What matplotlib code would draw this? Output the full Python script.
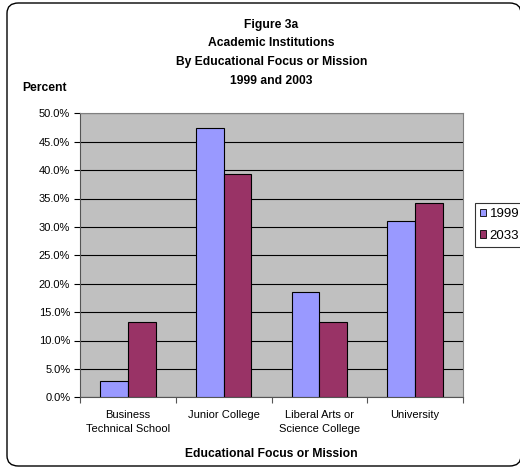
import matplotlib
matplotlib.use("Agg")
import matplotlib.pyplot as plt
import numpy as np
from matplotlib.patches import FancyBboxPatch, Patch
from matplotlib.ticker import FuncFormatter, MultipleLocator

categories = ["Business\nTechnical School", "Junior College", "Liberal Arts or\nScience College", "University"]
series_names = ["1999", "2033"]
values_1999 = [2.8, 47.5, 18.5, 31.1]
values_2033 = [13.2, 39.4, 13.2, 34.2]
colors = ["#9999FF", "#993366"]

plt.rcParams['font.family'] = ['Liberation Sans', 'DejaVu Sans']

fig = plt.figure(figsize=(5.2, 4.68), dpi=100)
W, H = 520, 468

# rounded frame
frame = FancyBboxPatch((7 / W, 2 / H), 514 / W, 463 / H,
                       boxstyle="round,pad=0,rounding_size=0.022",
                       transform=fig.transFigure, fill=False,
                       edgecolor="black", linewidth=1.0)
fig.patches.append(frame)

ax = fig.add_axes([80 / W, 1 - 397.3 / H, 383 / W, 284 / H])
ax.set_facecolor("#C0C0C0")

x = np.arange(len(categories))
bw = 0.29
ax.bar(x - bw / 2, values_1999, bw, color=colors[0], edgecolor="black", linewidth=0.8, zorder=3)
ax.bar(x + bw / 2, values_2033, bw, color=colors[1], edgecolor="black", linewidth=0.8, zorder=3)

ax.set_ylim(0, 50)
ax.set_xlim(-0.5, len(categories) - 0.5)
ax.yaxis.set_major_locator(MultipleLocator(5))
ax.yaxis.set_major_formatter(FuncFormatter(lambda v, p: f"{v:.1f}%"))
ax.grid(axis="y", color="black", linewidth=0.8, zorder=1)
ax.set_axisbelow(True)

ax.set_xticks(np.arange(len(categories) + 1) - 0.5)
ax.set_xticklabels([])
ax.set_xticks(x, minor=True)
ax.set_xticklabels(categories, minor=True, fontsize=8, linespacing=1.55)
ax.tick_params(axis="x", which="minor", length=0, pad=9)
ax.tick_params(axis="x", which="major", length=4, width=0.8, color="#555555")
ax.tick_params(axis="y", length=4, width=0.8, labelsize=8, pad=3)

for s in ["top", "right"]:
    ax.spines[s].set_color("#808080")
    ax.spines[s].set_linewidth(0.8)
for s in ["left", "bottom"]:
    ax.spines[s].set_color("#555555")
    ax.spines[s].set_linewidth(0.8)

title_lines = ["Figure 3a", "Academic Institutions", "By Educational Focus or Mission", "1999 and 2003"]
for i, t in enumerate(title_lines):
    fig.text(271.5 / W, 1 - (25 + i * 18.5) / H, t, ha="center", va="center",
             fontsize=8.7, fontweight="bold")

fig.text(22 / W, 1 - 88 / H, "Percent", ha="left", va="center", fontsize=8.7, fontweight="bold")
fig.text(271.5 / W, 1 - 454 / H, "Educational Focus or Mission", ha="center", va="center",
         fontsize=8.7, fontweight="bold")

handles = [Patch(facecolor=c, edgecolor="black", linewidth=0.6) for c in colors]
leg = fig.legend(handles, series_names, loc="upper left",
                 bbox_to_anchor=(474.5 / W, 1 - 203 / H), fontsize=9.5,
                 frameon=True, fancybox=False, edgecolor="black",
                 handlelength=0.5, handleheight=0.5, handletextpad=0.25,
                 borderpad=0.4, labelspacing=0.7, borderaxespad=0)
leg.get_frame().set_linewidth(0.8)

fig.savefig("out.png", dpi=100)
